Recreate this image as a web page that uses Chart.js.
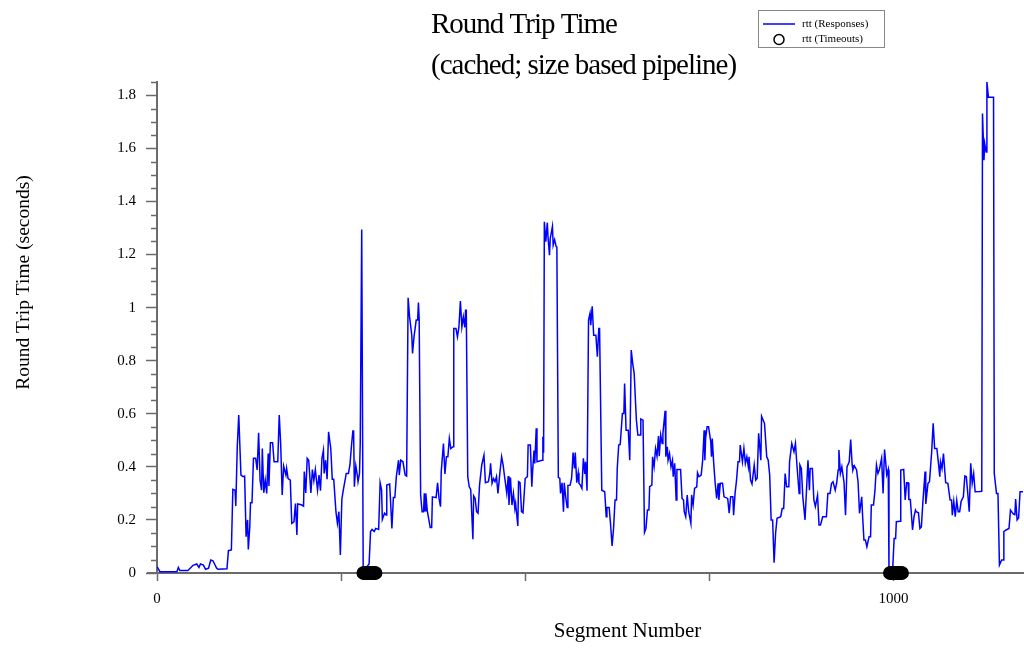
<!DOCTYPE html>
<html><head><meta charset="utf-8">
<script src="https://cdn.jsdelivr.net/npm/chart.js@4.4.1/dist/chart.umd.min.js"></script>
<style>html,body{margin:0;padding:0;background:#fff;}#wrap{width:1024px;height:648px;position:relative;}</style>
</head><body><div id="wrap"><canvas id="c"></canvas></div>
<script>
// ---- data ----
const segments = [0,4,27,29,31,42,49,54,57,59,63,66,70,73,76,81,83,95,97,101,103,106,107,109,111,114,117,119,121,123,124,126,127,129,131,134,136,138,140,142,143,145,147,149,151,152,154,157,159,164,166,168,170,172,175,176,178,181,183,186,188,190,191,196,199,200,202,204,206,209,211,213,215,218,220,222,224,226,227,229,231,233,236,238,240,243,245,247,249,
251,253,257,260,262,264,266,267,268,270,272,273,275,276,278,280,285,288,290,292,295,297,301,303,305,306,309,311,312,316,319,321,323,325,328,329,331,334,337,339,341,343,346,347,349,350,352,354,355,356,358,360,362,363,364,365,367,368,371,373,374,379,381,383,385,386,389,391,393,395,397,399,402,403,406,408,410,412,414,416,418,419,420,422,424,426,429,430,432,434,436,438,441,444,446,450,452,453,455,457,459,461,463,466,468,470,472,475,477,478,480,482,484,486,487,490,491,
493,495,497,500,503,504,507,509,510,512,513,515,516,523,524,525,526,528,530,531,533,534,537,538,540,542,543,545,547,548,550,552,553,555,557,558,561,563,564,565,567,568,570,572,573,575,577,579,581,582,584,586,588,589,591,593,596,598,600,601,604,608,610,611,614,616,618,620,622,624,625,627,629,632,634,635,637,640,642,644,646,648,650,651,653,656,657,660,662,664,666,668,669,672,673,675,677,679,681,682,684,686,687,690,691,693,694,696,698,700,701,703,705,706,711,713,715,716,718,720,722,725,726,728,730,733,734,736,
739,741,743,744,745,747,749,752,753,754,756,758,760,762,763,765,768,770,775,777,779,782,783,785,787,789,791,792,795,797,799,801,803,804,806,808,811,813,815,817,820,821,825,828,830,832,834,836,838,840,842,847,849,851,853,855,858,859,862,865,867,869,872,873,875,877,880,882,884,886,887,890,892,894,897,899,901,904,909,911,914,916,918,921,923,925,926,928,930,933,935,937,940,942,944,945,947,950,952,954,957,958,960,962,964,967,969,970,973,975,977,979,981,984,986,988,991,993,994,999,
1001,1003,1004,1009,1010,1014,1016,1018,1020,1021,1023,1026,1028,1030,1031,1034,1036,1038,1040,1043,1044,1046,1047,1049,1052,1054,1056,1059,1061,1063,1064,1066,1068,1071,1074,1077,1079,1080,1082,1084,1086,1088,1090,1092,1095,1097,1099,1101,1103,1105,1107,1109,1111,1117,1120,1121,1123,1124,1126,1127,1129,1136,1137,1140,1142,1144,1147,1149,1150,1153,1157,1159,1163,1165,1166,1168,1170,1172,1176];
const rttResponses = [0.024,0.005,0.005,0.021,0.009,0.009,0.029,0.034,0.021,0.034,0.03,0.014,0.018,0.049,0.046,0.018,0.014,0.016,0.084,0.087,0.315,0.312,0.252,0.476,0.595,0.369,0.363,0.365,0.137,0.2,0.089,0.174,0.265,0.265,0.432,0.432,0.388,0.528,0.35,0.312,0.469,0.302,0.35,0.3,0.45,0.328,0.491,0.491,0.419,0.419,0.595,0.482,0.294,0.403,0.369,0.394,0.356,0.35,0.187,0.193,0.262,0.143,0.26,0.257,0.252,0.382,0.302,0.432,0.425,0.302,0.39,0.348,0.39,0.312,0.369,0.31,0.432,0.463,0.375,0.425,0.353,0.532,0.469,0.353,0.353,0.231,0.187,0.231,0.068,
0.277,0.312,0.375,0.375,0.407,0.476,0.535,0.535,0.325,0.404,0.369,0.344,0.375,0.491,1.294,0.024,0.024,0.034,0.156,0.164,0.156,0.168,0.164,0.34,0.312,0.202,0.225,0.219,0.331,0.335,0.168,0.284,0.284,0.363,0.425,0.369,0.425,0.419,0.369,0.365,1.037,0.965,0.896,0.827,0.89,0.89,0.953,0.953,1.019,0.959,0.294,0.231,0.231,0.3,0.235,0.3,0.235,0.235,0.171,0.171,0.287,0.284,0.34,0.281,0.25,0.382,0.488,0.373,0.438,0.438,0.507,0.469,0.476,0.921,0.921,0.89,0.927,1.025,0.927,0.965,0.925,0.99,0.99,0.363,0.325,0.315,0.127,0.291,0.281,0.231,0.225,0.331,0.407,0.444,0.34,0.344,0.375,0.413,0.338,0.356,0.344,0.363,0.3,0.388,0.438,0.407,0.363,0.3,0.365,0.256,0.36,0.256,0.3,0.243,0.262,0.177,0.344,
0.34,0.231,0.227,0.356,0.363,0.482,0.482,0.325,0.382,0.461,0.413,0.545,0.419,0.425,0.513,0.453,1.323,1.248,1.32,1.266,1.197,1.26,1.306,1.235,1.256,1.23,1.228,0.36,0.356,0.3,0.34,0.231,0.34,0.287,0.247,0.33,0.331,0.356,0.4,0.454,0.394,0.454,0.34,0.378,0.338,0.331,0.319,0.432,0.373,0.419,0.31,0.953,0.978,0.934,1.005,0.896,0.896,0.815,0.921,0.921,0.312,0.306,0.212,0.247,0.247,0.181,0.102,0.168,0.275,0.275,0.394,0.482,0.484,0.601,0.601,0.714,0.538,0.538,0.425,0.84,0.789,0.752,0.633,0.576,0.52,0.52,0.58,0.576,0.153,0.168,0.237,0.237,0.325,0.331,0.438,0.4,0.469,0.44,0.516,0.44,0.52,0.488,0.526,0.611,0.438,0.476,0.425,0.45,0.4,0.425,0.363,0.413,0.275,0.39,0.39,0.281,0.275,0.231,0.212,0.294,0.231,0.187,0.294,0.256,0.319,0.325,0.378,0.363,
0.369,0.425,0.538,0.425,0.507,0.551,0.551,0.494,0.438,0.507,0.413,0.338,0.281,0.338,0.275,0.338,0.338,0.287,0.281,0.225,0.287,0.287,0.218,0.3,0.35,0.419,0.419,0.482,0.419,0.469,0.413,0.438,0.4,0.438,0.35,0.335,0.407,0.35,0.357,0.526,0.425,0.591,0.563,0.438,0.425,0.369,0.2,0.2,0.039,0.149,0.206,0.212,0.243,0.243,0.375,0.325,0.325,0.419,0.488,0.457,0.488,0.407,0.3,0.407,0.394,0.287,0.2,0.312,0.425,0.312,0.394,0.394,0.275,0.25,0.293,0.181,0.181,0.212,0.212,0.3,0.3,0.338,0.344,0.312,0.34,0.388,0.463,0.375,0.4,0.34,0.218,0.4,0.419,0.503,0.407,0.388,0.404,0.388,0.344,0.225,0.287,0.225,0.124,0.124,0.099,0.137,0.137,0.256,0.256,0.312,0.407,0.375,0.39,0.432,0.3,0.465,0.37,0.39,0.012,0.012,
0.13,0.13,0.193,0.195,0.388,0.39,0.275,0.34,0.34,0.277,0.277,0.162,0.212,0.237,0.231,0.227,0.168,0.174,0.265,0.382,0.26,0.312,0.338,0.344,0.457,0.564,0.469,0.469,0.419,0.363,0.419,0.394,0.45,0.34,0.338,0.275,0.275,0.218,0.27,0.212,0.273,0.231,0.231,0.27,0.287,0.365,0.363,0.3,0.231,0.413,0.338,0.375,0.306,0.307,0.308,1.731,1.555,1.618,1.586,1.85,1.793,1.793,0.375,0.3,0.3,0.03,0.049,0.049,0.156,0.162,0.168,0.237,0.222,0.22,0.279,0.2,0.207,0.306,0.306];
const timeoutSegments = [280,281,282,283,284,285,286,287,288,289,290,291,292,293,294,295,296,297,995,996,997,998,999,1000,1001,1002,1003,1004,1005,1006,1007,1008,1009,1010,1011,1012];
const timeoutRtt = [0,0,0,0,0,0,0,0,0,0,0,0,0,0,0,0,0,0,0,0,0,0,0,0,0,0,0,0,0,0,0,0,0,0,0,0];
const xTickValues = [0,250,500,750,1000];
const xTickLabels = ['0','','','','1000'];
const yMajorTicks = [0,0.2,0.4,0.6,0.8,1,1.2,1.4,1.6,1.8];
const yTickLabels = ['0','0.2','0.4','0.6','0.8','1','1.2','1.4','1.6','1.8'];
const titleLines = ['Round Trip Time','(cached; size based pipeline)'];
const xTitle = 'Segment Number';
const yTitle = 'Round Trip Time (seconds)';
const legendLabels = ['rtt (Responses)','rtt (Timeouts)'];

// ---- chart ----
const FONT = '"Liberation Serif","Times New Roman",serif';
const AXIS = '#6b6b6b';
const respPoints = segments.map((s,i)=>({x:s,y:rttResponses[i]}));
const toPoints = timeoutSegments.map((s,i)=>({x:s,y:timeoutRtt[i]}));
function majorIndex(v){for(let i=0;i<yMajorTicks.length;i++){if(Math.abs(yMajorTicks[i]-v)<1e-6)return i;}return -1;}
const yMinor=[];for(let i=0;i<=37;i++){yMinor.push(Math.round(i*5)/100);}

const decor = {
  id:'decor',
  afterDraw(chart){
    const ctx=chart.ctx; const ys=chart.scales.y; const xs=chart.scales.x;
    ctx.save();
    // minor y ticks
    ctx.strokeStyle=AXIS; ctx.lineWidth=1.5;
    yMinor.forEach(v=>{ if(majorIndex(v)>=0) return; const p=Math.round(ys.getPixelForValue(v))+0.5; ctx.beginPath(); ctx.moveTo(xs.left-6,p); ctx.lineTo(xs.left,p); ctx.stroke(); });
    // short extension of the x axis line to the left of the y axis
    ctx.lineWidth=2; ctx.beginPath(); ctx.moveTo(xs.left-10,Math.round(ys.getPixelForValue(0))); ctx.lineTo(xs.left,Math.round(ys.getPixelForValue(0))); ctx.stroke();
    // title
    ctx.fillStyle='#000'; ctx.textAlign='left'; ctx.textBaseline='alphabetic';
    ctx.font='29px '+FONT; try{ctx.letterSpacing='-1px';}catch(e){}
    ctx.fillText(titleLines[0],431,33);
    ctx.fillText(titleLines[1],431,74);
    try{ctx.letterSpacing='0px';}catch(e){}
    // axis titles
    ctx.font='21px '+FONT; ctx.textAlign='center';
    ctx.fillText(xTitle,627.5,637);
    ctx.save(); ctx.translate(29,282.5); ctx.rotate(-Math.PI/2);
    ctx.font='19.5px '+FONT; ctx.fillText(yTitle,0,0); ctx.restore();
    // legend
    ctx.strokeStyle='#888'; ctx.lineWidth=1; ctx.strokeRect(758.5,10.5,126,37);
    ctx.strokeStyle='#0000ff'; ctx.lineWidth=1.5; ctx.beginPath(); ctx.moveTo(763,24); ctx.lineTo(795,24); ctx.stroke();
    ctx.strokeStyle='#000'; ctx.lineWidth=1.5; ctx.beginPath(); ctx.arc(779,39.5,5,0,Math.PI*2); ctx.stroke();
    ctx.font='11px '+FONT; ctx.textAlign='left'; ctx.textBaseline='middle';
    ctx.fillText(legendLabels[0],802,24);
    ctx.fillText(legendLabels[1],802,39.5);
    ctx.restore();
  }
};

new Chart(document.getElementById('c'),{
  type:'line',
  data:{datasets:[
    {label:legendLabels[1],data:toPoints,showLine:false,pointStyle:'circle',pointRadius:6,pointBorderColor:'#000',pointBackgroundColor:'rgba(0,0,0,0)',pointBorderWidth:1.5,clip:false,order:0},
    {label:legendLabels[0],data:respPoints,borderColor:'#0000ff',borderWidth:1.5,pointRadius:0,fill:false,tension:0,order:1}
  ]},
  options:{
    responsive:true,maintainAspectRatio:false,animation:false,events:[],
    layout:{padding:{top:82,right:1,left:0,bottom:0},autoPadding:false},
    plugins:{legend:{display:false},tooltip:{enabled:false},title:{display:false}},
    scales:{
      x:{type:'linear',min:0,max:1176,
        afterBuildTicks(s){s.ticks=xTickValues.map(v=>({value:v}));},
        afterFit(s){s.height=75;},
        ticks:{callback:(v)=>{const i=xTickValues.indexOf(v);return i>=0?xTickLabels[i]:'';},font:{family:FONT,size:15},color:'#000',padding:9,maxRotation:0,autoSkip:false},
        grid:{display:true,drawOnChartArea:false,drawTicks:true,tickLength:8,tickColor:AXIS,tickWidth:1.5},
        border:{display:true,color:AXIS,width:2}
      },
      y:{type:'linear',min:0,max:1.85,
        afterBuildTicks(s){s.ticks=yMinor.map(v=>({value:v}));},
        afterFit(s){s.width=157;},
        ticks:{callback:(v)=>{const i=majorIndex(v);return i>=0?yTickLabels[i]:'';},font:{family:FONT,size:15},color:'#000',padding:10,autoSkip:false},
        grid:{display:true,drawOnChartArea:false,drawTicks:true,tickLength:11,tickWidth:1.5,tickColor:(c)=>(c.tick&&majorIndex(c.tick.value)>=0)?AXIS:'rgba(0,0,0,0)'},
        border:{display:true,color:AXIS,width:2}
      }
    }
  },
  plugins:[decor]
});
</script></body></html>
